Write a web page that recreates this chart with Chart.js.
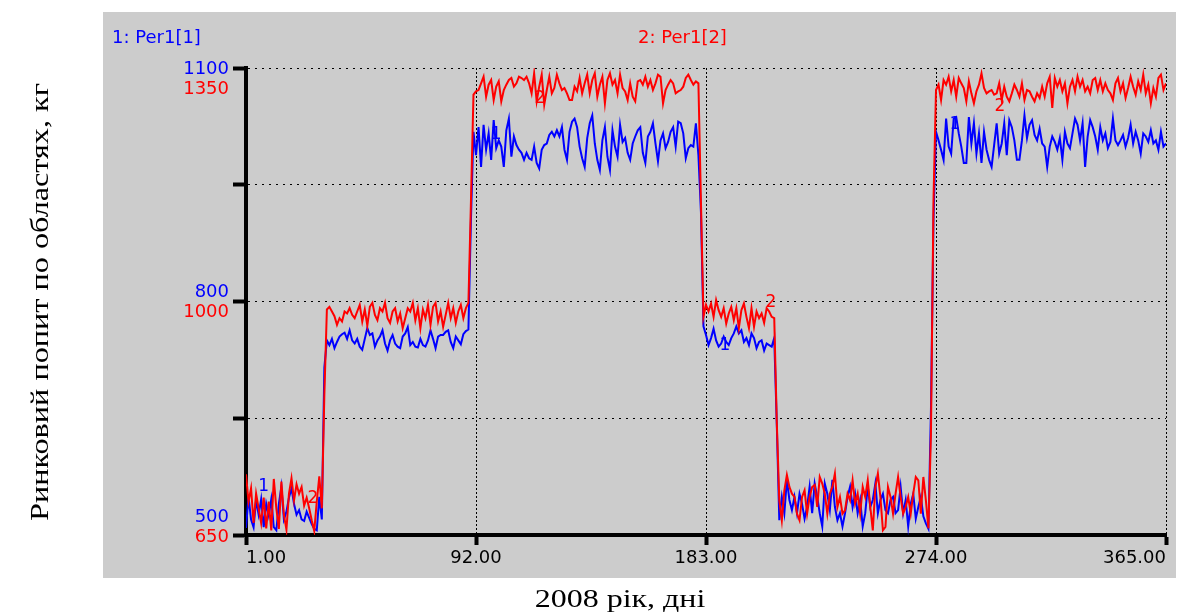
<!DOCTYPE html>
<html><head><meta charset="utf-8">
<script src="https://cdn.jsdelivr.net/npm/chart.js@4.4.0/dist/chart.umd.min.js"></script>
<style>html,body{margin:0;padding:0;background:#fff;overflow:hidden}</style>
</head><body>
<canvas id="c" width="1179" height="616"></canvas>
<script>
// ---------- data ----------
const days = Array.from({length: 365}, (_, i) => i + 1);
const xTicks = [1, 92, 183, 274, 365];
const blueTicks = [500, 650, 800, 950, 1100];
const redTicks = [650, 825, 1000, 1175, 1350];
const blueAxisLabels = [1100, 800, 500];
const redAxisLabels = [1350, 1000, 650];

// Series 1 (blue, "1: Per1[1]") by segment, last value of a segment = transition day
const blueSeg1 = [509,549,520,510,545,526,546,510,540,525,546,510,506,540,562,520,530,548,560,540,526,532,520,518,530,522,514,508,506,549,520, 715];
const blueSeg2 = [750,744,752,740,748,755,758,760,752,763,750,746,752,742,738,752,766,757,759,742,750,755,763,746,737,750,757,746,742,740,755,759,767,744,748,742,741,752,744,742,750,763,752,740,755,757,757,761,763,748,740,755,750,745,758,762,764, 905];
const blueSeg3 = [1018,988,1024,973,1027,995,1016,982,1033,997,1007,999,973,1020,1035,986,1012,1001,995,991,982,991,984,982,999,978,971,995,1001,1003,1014,1018,1012,1020,1012,1024,995,982,1018,1031,1035,1024,999,984,973,1010,1029,1039,1003,982,969,1007,1024,986,969,1020,999,986,1027,1005,1010,991,982,1003,1012,1020,1024,991,978,1012,1018,1029,1003,980,1007,1016,997,1005,1018,1024,999,1031,1029,1016,984,997,1001,999,1029,988, 915];
const blueSeg4 = [768,757,744,753,765,750,742,746,755,748,744,753,759,768,759,763,748,753,744,759,753,740,748,750,737,746,744,742,753, 643];
const blueSeg5 = [519,549,528,571,545,532,549,528,553,540,521,536,562,528,566,549,528,511,566,553,532,571,536,519,528,511,528,549,562,536,553,528,545,511,528,562,536,545,566,528,545,553,532,528,545,549,528,532,562,528,545,511,540,553,521,536,549,524,515,508, 660, 905];
const blueSeg6 = [1018,1007,995,982,1035,999,990,1035,1037,1016,999,978,978,1037,1003,1029,990,1016,978,1018,995,982,973,1001,1029,990,1003,1029,988,1033,1024,1007,982,982,1007,1039,1010,1027,1033,1014,1007,1022,1003,999,973,999,1012,1005,995,1010,982,1018,1003,997,1016,1035,1027,1007,1029,973,1012,1033,1024,1012,995,1024,1007,1016,997,1005,1035,1007,1001,1007,1014,999,1010,1027,1003,1018,1007,990,1016,1012,1005,1020,1003,1007,995,1018,999,1003];

// Series 2 (red, "2: Per1[2]")
const redSeg1 = [741,700,720,668,712,690,668,706,660,700,657,734,690,659,730,680,658,712,735,702,726,712,722,694,706,690,672,656,700,738,690, 860];
const redSeg2 = [988,992,985,978,965,975,970,985,982,990,980,975,985,995,970,988,964,992,998,980,972,990,985,998,975,968,985,990,970,982,960,975,990,985,998,972,990,960,988,975,995,965,992,998,970,985,962,980,998,975,990,968,985,995,975,990,998, 1150];
const redSeg3 = [1310,1315,1317,1327,1337,1307,1325,1332,1302,1322,1330,1300,1317,1325,1332,1335,1322,1327,1337,1335,1332,1337,1327,1312,1342,1300,1322,1340,1295,1317,1337,1312,1320,1340,1327,1317,1320,1312,1302,1302,1322,1315,1335,1312,1327,1340,1312,1332,1342,1307,1325,1337,1297,1332,1342,1325,1332,1312,1340,1320,1315,1302,1327,1307,1300,1330,1332,1325,1337,1322,1332,1317,1327,1340,1337,1297,1317,1325,1332,1327,1312,1315,1317,1322,1335,1340,1332,1325,1330,1327, 1150];
const redSeg4 = [977,995,985,997,977,1002,987,977,990,967,982,992,972,990,960,987,997,977,960,990,962,985,975,982,968,990,985,977,975, 820];
const redSeg5 = [702,672,717,740,722,712,707,682,672,707,717,682,707,722,725,692,737,727,712,682,712,722,742,692,707,682,687,712,702,732,697,712,682,722,707,732,692,657,722,742,707,657,662,722,707,682,712,737,707,682,692,707,682,712,737,732,682,737,702,660, 800, 1150];
const redSeg6 = [1317,1325,1302,1332,1325,1337,1315,1332,1307,1335,1327,1320,1300,1330,1312,1297,1315,1325,1342,1320,1312,1315,1317,1310,1312,1327,1302,1322,1307,1300,1312,1325,1317,1307,1327,1302,1317,1315,1307,1300,1312,1305,1322,1307,1327,1337,1290,1335,1322,1332,1315,1327,1297,1322,1332,1315,1337,1322,1332,1315,1322,1312,1332,1335,1317,1332,1315,1327,1317,1312,1302,1327,1335,1315,1327,1305,1320,1337,1322,1310,1330,1317,1340,1312,1325,1297,1320,1307,1335,1340,1317,1327];

const blueValues = [...blueSeg1, ...blueSeg2, ...blueSeg3, ...blueSeg4, ...blueSeg5, ...blueSeg6];
const redValues = [...redSeg1, ...redSeg2, ...redSeg3, ...redSeg4, ...redSeg5, ...redSeg6];

// curve marker labels: [day, value]
const blueMarks = [[8, 562], [100, 1014], [190.5, 744], [281.5, 1027]];
const redMarks = [[27.5, 704], [117.3, 1304], [208.7, 998], [299.3, 1292]];

const BLUE = '#0000ff', RED = '#ff0000';

const decor = {
  id: 'decor',
  beforeDraw(chart) {
    const ctx = chart.ctx;
    ctx.save();
    ctx.fillStyle = '#ffffff';
    ctx.fillRect(0, 0, chart.width, chart.height);
    ctx.fillStyle = '#cccccc';
    ctx.fillRect(103, 12, 1073, 566);
    ctx.restore();
  },
  afterDatasetsDraw(chart) {
    const ctx = chart.ctx, x = chart.scales.x, y = chart.scales.y, y2 = chart.scales.y2;
    ctx.save();
    ctx.font = '18px "DejaVu Sans"';
    ctx.textBaseline = 'middle';
    ctx.textAlign = 'right';
    const blueOff = [1, -9, -18], redOff = [21, 11, 2];
    blueAxisLabels.forEach((v, i) => { ctx.fillStyle = BLUE; ctx.fillText(String(v), 229, y.getPixelForValue(v) + blueOff[i]); });
    redAxisLabels.forEach((v, i) => { ctx.fillStyle = RED; ctx.fillText(String(v), 229, y2.getPixelForValue(v) + redOff[i]); });
    ctx.textAlign = 'left';
    ctx.fillStyle = BLUE; ctx.fillText('1: Per1[1]', 112, 38);
    ctx.fillStyle = RED; ctx.fillText('2: Per1[2]', 638, 38);
    ctx.textAlign = 'center';
    ctx.font = '17px "DejaVu Sans"';
    blueMarks.forEach(([d, v]) => { ctx.fillStyle = BLUE; ctx.fillText('1', x.getPixelForValue(d), y.getPixelForValue(v)); });
    redMarks.forEach(([d, v]) => { ctx.fillStyle = RED; ctx.fillText('2', x.getPixelForValue(d), y2.getPixelForValue(v)); });
    ctx.fillStyle = '#000';
    ctx.font = '25px "Liberation Serif"';
    ctx.textBaseline = 'alphabetic';
    ctx.save(); ctx.translate(620, 607); ctx.scale(1.28, 1); ctx.fillText('2008 рік, дні', 0, 0); ctx.restore();
    ctx.save(); ctx.translate(48, 302); ctx.rotate(-Math.PI / 2); ctx.scale(1.29, 1); ctx.fillText('Ринковий попит по областях, кг', 0, 0); ctx.restore();
    ctx.restore();
  }
};

new Chart(document.getElementById('c'), {
  type: 'line',
  data: {
    labels: days,
    datasets: [
      { label: '2: Per1[2]', data: redValues, yAxisID: 'y2', borderColor: RED, borderWidth: 2, pointRadius: 0, tension: 0, fill: false },
      { label: '1: Per1[1]', data: blueValues, yAxisID: 'y', borderColor: BLUE, borderWidth: 2, pointRadius: 0, tension: 0, fill: false }
    ]
  },
  options: {
    responsive: false,
    animation: false,
    devicePixelRatio: 1,
    layout: { padding: { left: 226, right: 13, top: 68, bottom: 41 } },
    plugins: { legend: { display: false }, tooltip: { enabled: false }, title: { display: false } },
    scales: {
      x: {
        type: 'linear', position: 'bottom', min: 1, max: 365,
        afterBuildTicks: s => { s.ticks = xTicks.map(v => ({ value: v })); },
        afterFit: s => { s.height = 40; },
        ticks: { callback: v => Number(v).toFixed(2), font: { family: 'DejaVu Sans', size: 18 }, color: '#000', align: 'inner', maxRotation: 0, autoSkip: false, padding: 3 },
        grid: { color: '#000', lineWidth: 1, tickLength: 10, tickWidth: 4, tickColor: '#000', tickBorderDash: [] },
        border: { display: true, color: '#000', width: 4, dash: [2, 2] }
      },
      y: {
        type: 'linear', position: 'left', min: 500, max: 1100,
        afterBuildTicks: s => { s.ticks = blueTicks.map(v => ({ value: v })); },
        afterFit: s => { s.width = 20; },
        ticks: { display: false },
        grid: { color: '#000', lineWidth: 1, tickLength: 13, tickWidth: 4, tickColor: '#000', tickBorderDash: [] },
        border: { display: true, color: '#000', width: 4, dash: [2, 5] }
      },
      y2: {
        type: 'linear', position: 'left', min: 650, max: 1350, display: false,
        afterBuildTicks: s => { s.ticks = redTicks.map(v => ({ value: v })); }
      }
    }
  },
  plugins: [decor]
});
</script>
</body></html>
